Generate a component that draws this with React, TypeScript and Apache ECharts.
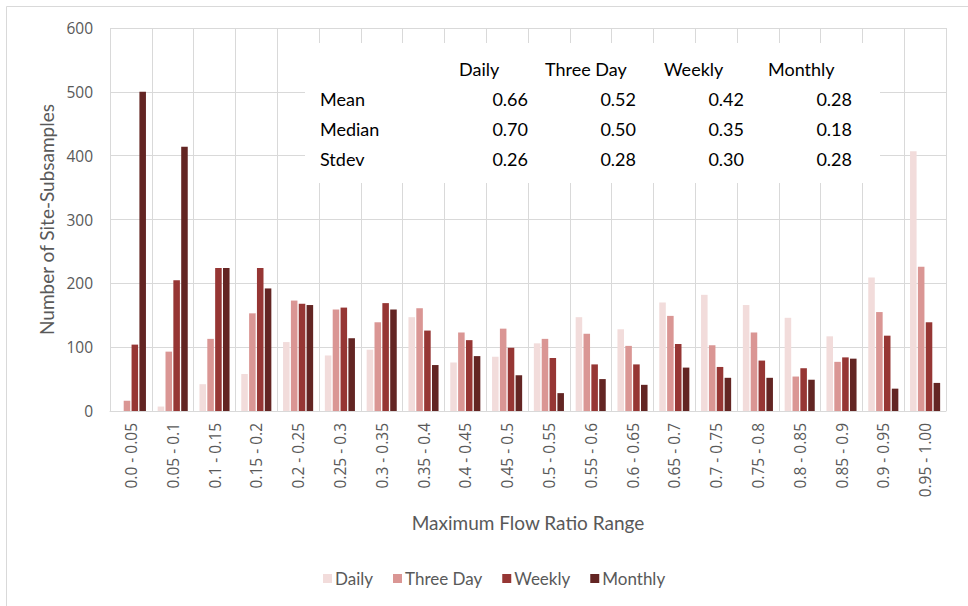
import React, { useEffect, useRef } from "react";
import * as echarts from "echarts";

const categories = [
  "0.0 - 0.05", "0.05 - 0.1", "0.1 - 0.15", "0.15 - 0.2", "0.2 - 0.25",
  "0.25 - 0.3", "0.3 - 0.35", "0.35 - 0.4", "0.4 - 0.45", "0.45 - 0.5",
  "0.5 - 0.55", "0.55 - 0.6", "0.6 - 0.65", "0.65 - 0.7", "0.7 - 0.75",
  "0.75 - 0.8", "0.8 - 0.85", "0.85 - 0.9", "0.9 - 0.95", "0.95 - 1.00",
];

const daily = [0, 7, 42, 58, 108, 87, 96, 147, 76, 85, 106, 147, 128, 170, 182, 166, 146, 117, 209, 407];
const threeDay = [16, 93, 113, 153, 173, 159, 139, 161, 123, 129, 113, 121, 102, 149, 103, 123, 54, 77, 155, 226];
const weekly = [104, 205, 224, 224, 168, 162, 169, 126, 111, 99, 83, 73, 73, 105, 69, 79, 67, 84, 118, 139];
const monthly = [500, 414, 224, 192, 166, 114, 159, 72, 86, 56, 28, 50, 41, 68, 52, 52, 49, 82, 35, 44];

const seriesNames = ["Daily", "Three Day", "Weekly", "Monthly"];
const seriesColors = ["#F2DCDB", "#DA9694", "#963634", "#632523"];

const statColumns = ["Daily", "Three Day", "Weekly", "Monthly"];
const statRows = ["Mean", "Median", "Stdev"];
const statMean = ["0.66", "0.52", "0.42", "0.28"];
const statMedian = ["0.70", "0.50", "0.35", "0.18"];
const statStdev = ["0.26", "0.28", "0.30", "0.28"];

const yTicks = { min: 0, max: 600, interval: 100 };

export default function App() {
  const ref = useRef<HTMLDivElement>(null);

  useEffect(() => {
    document.body.style.margin = "0";
    const chart = echarts.init(ref.current!, undefined, { renderer: "svg" });
    const gray = "#595959";
    const lineGray = "#d9d9d9";
    const tableFont = "Lato";
    const statValues = [statMean, statMedian, statStdev];
    const headerLefts = [459, 545, 664, 768];
    const valueRights = [528, 636, 744, 852];
    const rowYs = [99, 129, 159];

    const tableElements: any[] = [
      {
        type: "rect",
        z: 100,
        shape: { x: 305, y: 43, width: 575, height: 140 },
        style: { fill: "#ffffff" },
      },
    ];
    statColumns.forEach((c, i) => {
      tableElements.push({
        type: "text",
        z: 101,
        x: headerLefts[i],
        y: 69,
        style: { text: c, font: `18px ${tableFont}`, fill: "#000", textAlign: "left", textVerticalAlign: "middle" },
      });
    });
    statRows.forEach((r, ri) => {
      tableElements.push({
        type: "text",
        z: 101,
        x: 320,
        y: rowYs[ri],
        style: { text: r, font: `18px ${tableFont}`, fill: "#000", textAlign: "left", textVerticalAlign: "middle" },
      });
      statValues[ri].forEach((v, ci) => {
        tableElements.push({
          type: "text",
          z: 101,
          x: valueRights[ci],
          y: rowYs[ri],
          style: { text: v, font: `18px ${tableFont}`, fill: "#000", textAlign: "right", textVerticalAlign: "middle" },
        });
      });
    });

    const dataSets = [daily, threeDay, weekly, monthly];

    chart.setOption({
      animation: false,
      backgroundColor: "#ffffff",
      grid: { left: 110, right: 22, top: 28, bottom: 195, containLabel: false },
      legend: {
        data: seriesNames,
        left: 318,
        top: 565,
        itemWidth: 9,
        itemHeight: 9,
        itemGap: 20,
        icon: "rect",
        textStyle: { color: gray, fontSize: 17, fontFamily: tableFont, padding: [0, 0, 0, -2] },
      },
      xAxis: {
        type: "category",
        data: categories,
        axisTick: { show: false },
        axisLine: { show: true, lineStyle: { color: lineGray, width: 1 } },
        splitLine: { show: true, interval: 0, lineStyle: { color: lineGray, width: 1 } },
        axisLabel: {
          interval: 0,
          rotate: 90,
          margin: 12,
          color: gray,
          fontSize: 15.5,
          fontFamily: "Open Sans",
        },
        name: "Maximum Flow Ratio Range",
        nameLocation: "middle",
        nameGap: 102,
        nameTextStyle: { color: gray, fontSize: 19, fontFamily: tableFont },
      },
      yAxis: {
        type: "value",
        min: yTicks.min,
        max: yTicks.max,
        interval: yTicks.interval,
        axisLine: { show: false },
        axisTick: { show: false },
        splitLine: { show: true, lineStyle: { color: lineGray, width: 1 } },
        axisLabel: { color: gray, fontSize: 15.5, fontFamily: "Open Sans", margin: 17 },
        name: "Number of Site-Subsamples",
        nameLocation: "middle",
        nameGap: 53,
        nameTextStyle: { color: gray, fontSize: 19, fontFamily: tableFont },
      },
      series: seriesNames.map((n, i) => ({
        name: n,
        type: "bar",
        data: dataSets[i],
        barGap: "20%",
        barCategoryGap: "28%",
        itemStyle: { color: seriesColors[i] },
      })),
      graphic: [
        {
          type: "rect",
          z: 0,
          silent: true,
          shape: { x: 6.5, y: 6.5, width: 1000, height: 1000 },
          style: { fill: "none", stroke: lineGray, lineWidth: 1 },
        },
        ...tableElements,
      ],
    });
    return () => chart.dispose();
  }, []);

  return (
    <div
      ref={ref}
      style={{ position: "absolute", left: 0, top: 0, width: 968, height: 606 }}
    />
  );
}
